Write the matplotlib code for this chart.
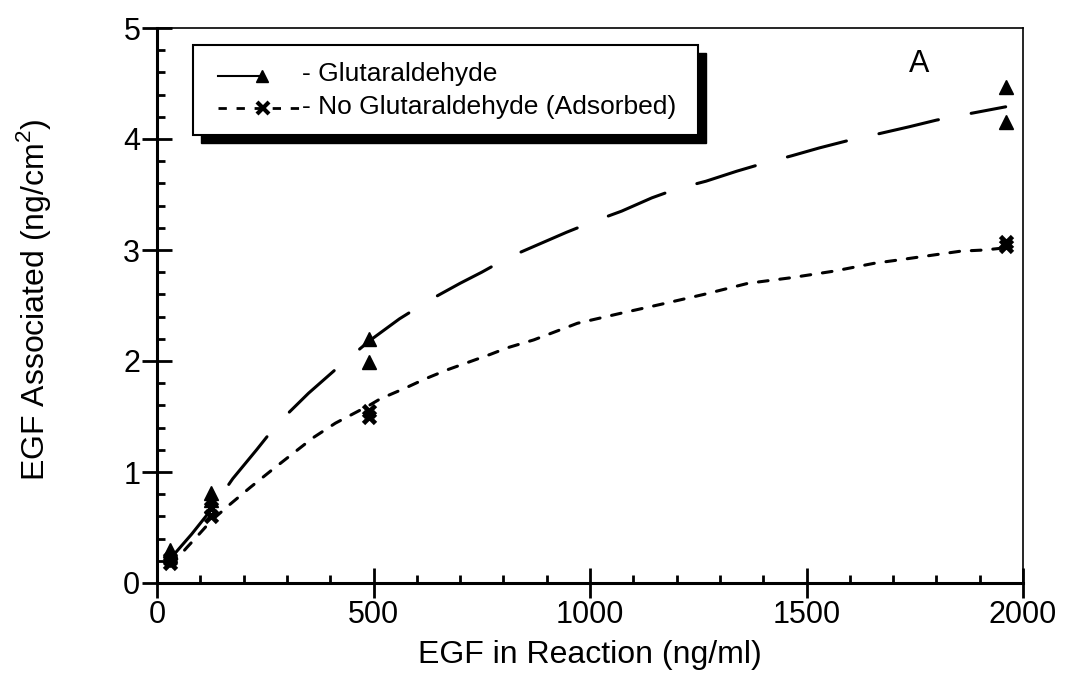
import matplotlib
matplotlib.use('Agg')
import matplotlib.pyplot as plt
from matplotlib.patches import Rectangle
from matplotlib.lines import Line2D
from matplotlib.ticker import MultipleLocator

plt.rcParams['font.family'] = ['Liberation Sans', 'DejaVu Sans']
plt.rcParams['mathtext.fontset'] = 'custom'
plt.rcParams['mathtext.rm'] = 'Liberation Sans'
plt.rcParams['lines.scale_dashes'] = False

# measured points (EGF in reaction ng/ml, EGF associated ng/cm2)
glut_x = [31, 31, 125, 125, 490, 490, 1960, 1960]
glut_y = [0.30, 0.25, 0.81, 0.75, 2.20, 1.99, 4.47, 4.15]
ads_x = [31, 31, 125, 125, 490, 490, 1960, 1960]
ads_y = [0.22, 0.18, 0.68, 0.60, 1.55, 1.50, 3.07, 3.04]

# fitted curves
glut_fit_x = [31, 80, 125, 175, 230, 277, 350, 420, 490, 560, 630, 700, 750,
              810, 875, 946, 1010, 1073, 1143, 1200, 1268, 1339, 1400, 1467,
              1530, 1600, 1670, 1737, 1800, 1865, 1960]
glut_fit_y = [0.22, 0.44, 0.66, 0.94, 1.20, 1.43, 1.71, 1.95, 2.18, 2.38, 2.55,
              2.70, 2.80, 2.93, 3.04, 3.16, 3.26, 3.35, 3.47, 3.55, 3.62, 3.71,
              3.78, 3.85, 3.92, 3.99, 4.05, 4.11, 4.17, 4.22, 4.29]
ads_fit_x = [31, 69, 88, 125, 169, 215, 266, 315, 361, 412, 490, 516, 570, 620,
             670, 720, 770, 810, 870, 971, 1071, 1163, 1263, 1365, 1464, 1564,
             1656, 1712, 1857, 1911, 1960]
ads_fit_y = [0.15, 0.32, 0.40, 0.56, 0.71, 0.86, 1.02, 1.17, 1.31, 1.44, 1.60,
             1.66, 1.75, 1.84, 1.92, 1.99, 2.06, 2.12, 2.19, 2.34, 2.43, 2.51,
             2.60, 2.70, 2.75, 2.81, 2.88, 2.91, 2.99, 3.00, 3.02]

W, H = 1066, 682
fig = plt.figure(figsize=(W / 100, H / 100), dpi=100)
ax = fig.add_axes([157 / W, 1 - 583 / H, (1023 - 157) / W, (583 - 28) / H])

def px(x, y):
    return (x / W, 1 - y / H)

ax.plot(glut_fit_x, glut_fit_y, color='black', lw=2.2, dashes=(44, 24),
        solid_capstyle='round', dash_capstyle='round')
ax.plot(ads_fit_x, ads_fit_y, color='black', lw=2.2, dashes=(7, 8.5),
        dash_capstyle='round')
ax.plot(glut_x, glut_y, ls='none', marker='^', ms=10, color='black')
ax.plot(ads_x, ads_y, ls='none', marker='x', ms=9, mew=3.4, color='black')

ax.set_xlim(0, 2000)
ax.set_ylim(0, 5)
ax.xaxis.set_major_locator(MultipleLocator(500))
ax.xaxis.set_minor_locator(MultipleLocator(100))
ax.yaxis.set_major_locator(MultipleLocator(1))
ax.yaxis.set_minor_locator(MultipleLocator(0.2))
ax.tick_params(which='major', direction='inout', length=22, width=2,
               labelsize=22, pad=1)
ax.tick_params(which='minor', direction='in', length=6, width=2)
for s in ['left', 'bottom']:
    ax.spines[s].set_linewidth(2.2)
for s in ['top', 'right']:
    ax.spines[s].set_linewidth(1.2)

ax.set_xlabel('EGF in Reaction (ng/ml)', fontsize=23)
ax.set_ylabel('EGF Associated (ng/cm$^2$)', fontsize=23)
ax.xaxis.set_label_coords(0.5, -0.13)
ax.xaxis.label.set_va('center')
ax.yaxis.set_label_coords(-0.143, 0.51)
ax.yaxis.label.set_va('center')

ax.text(0.88, 0.935, 'A', transform=ax.transAxes, fontsize=22,
        ha='center', va='center')

# legend box with drop shadow
x0, y0 = px(193, 135)
x1, y1 = px(698, 45)
sx, sy = 8 / W, 8 / H
fig.add_artist(Rectangle((x0 + sx, y0 - sy), x1 - x0, y1 - y0,
                         transform=fig.transFigure, facecolor='black',
                         edgecolor='black', zorder=5))
fig.add_artist(Rectangle((x0, y0), x1 - x0, y1 - y0,
                         transform=fig.transFigure, facecolor='white',
                         edgecolor='black', lw=1.5, zorder=6))
a, b = px(218, 76)
c, _ = px(262, 76)
fig.add_artist(Line2D([a, c], [b, b], transform=fig.transFigure,
                      color='black', lw=1.5, zorder=7))
fig.add_artist(Line2D([c], [b], transform=fig.transFigure, marker='^',
                      ms=9, color='black', zorder=7))
a, b = px(218, 108)
c, _ = px(300, 108)
m, _ = px(263, 108)
fig.add_artist(Line2D([a, c], [b, b], transform=fig.transFigure,
                      color='black', lw=2, dashes=(6, 7), zorder=7))
fig.add_artist(Line2D([m], [b], transform=fig.transFigure, marker='x',
                      ms=8, mew=3, color='black', zorder=7))
tx, ty = px(302, 74)
fig.text(tx, ty, '- Glutaraldehyde', fontsize=19, va='center', zorder=7)
tx, ty = px(302, 107)
fig.text(tx, ty, '- No Glutaraldehyde (Adsorbed)', fontsize=19,
         va='center', zorder=7)

fig.savefig('out.png', dpi=100)
